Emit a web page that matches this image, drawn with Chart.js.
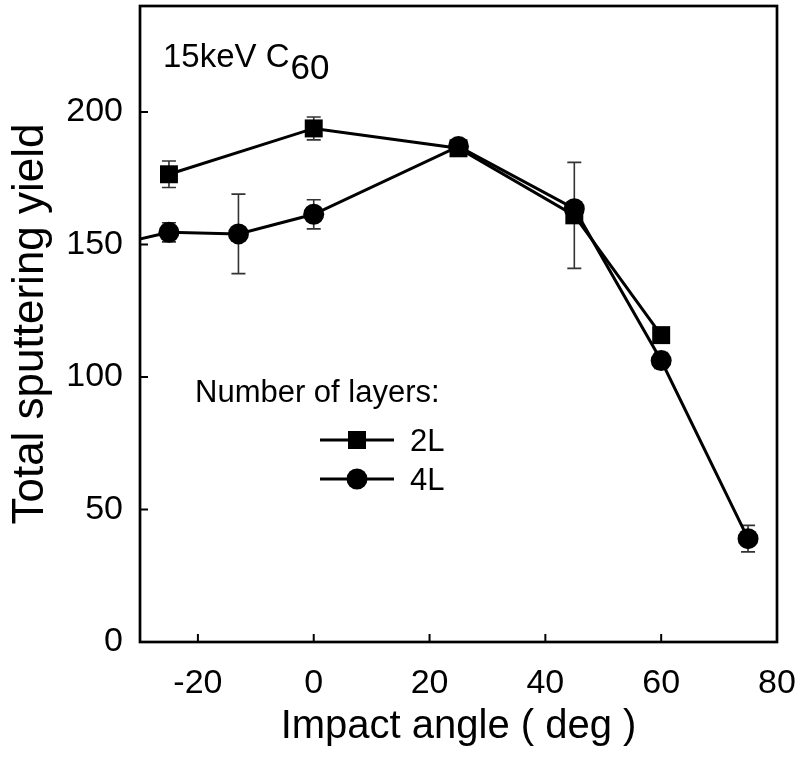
<!DOCTYPE html>
<html lang="en">
<head>
  <meta charset="UTF-8">
  <title>Total sputtering yield</title>
  <style>
    html, body { margin: 0; padding: 0; background: #fff; }
    #wrap { width: 800px; height: 767px; }
  </style>
</head>
<body>
  <div id="wrap"><canvas id="chart" width="800" height="767"></canvas></div>

  <script src="https://cdn.jsdelivr.net/npm/chart.js@4/dist/chart.umd.min.js"></script>
  <script>
    // data
    const angles2L = [-25, 0, 25, 45, 60];
    const yield2L = [176.5, 193.8, 186.3, 161, 115.8];
    const err2L = [5, 4.3, 2, 20, 0];

    const angles4L = [-35, -25, -13, 0, 25, 45, 60, 75];
    const yield4L = [149.5, 154.6, 154, 161.4, 187, 163.5, 106.2, 39];
    const err4L = [0, 3.6, 15, 5.5, 2, 0, 3, 5];

    const xTicks = [-20, 0, 20, 40, 60, 80];
    const yTicks = [0, 50, 100, 150, 200];

    const FONT = "'Liberation Sans', Arial, sans-serif";

    function toPoints(xs, ys) {
      return xs.map((x, i) => ({ x: x, y: ys[i] }));
    }

    // error bars, drawn under the markers
    const errorBars = {
      id: 'errorBars',
      beforeDatasetsDraw(chart) {
        const { ctx, chartArea, scales: { x, y } } = chart;
        const errs = [err2L, err4L];
        ctx.save();
        ctx.beginPath();
        ctx.rect(chartArea.left, chartArea.top, chartArea.width, chartArea.height);
        ctx.clip();
        ctx.strokeStyle = '#333';
        ctx.lineWidth = 1.6;
        chart.data.datasets.forEach((ds, d) => {
          ds.data.forEach((p, i) => {
            const e = errs[d][i];
            if (!e) return;
            const px = x.getPixelForValue(p.x);
            const top = y.getPixelForValue(p.y + e);
            const bot = y.getPixelForValue(p.y - e);
            ctx.beginPath();
            ctx.moveTo(px, top); ctx.lineTo(px, bot);
            ctx.moveTo(px - 7, top); ctx.lineTo(px + 7, top);
            ctx.moveTo(px - 7, bot); ctx.lineTo(px + 7, bot);
            ctx.stroke();
          });
        });
        ctx.restore();
      }
    };

    // box, inward ticks, annotation and legend
    const frame = {
      id: 'frame',
      afterDraw(chart) {
        const { ctx, chartArea: a, scales: { x, y } } = chart;
        ctx.save();
        ctx.strokeStyle = '#000';
        ctx.lineWidth = 2.7;
        ctx.strokeRect(a.left, a.top, a.width, a.height);

        ctx.lineWidth = 2;
        ctx.beginPath();
        xTicks.forEach(v => {
          const px = x.getPixelForValue(v);
          ctx.moveTo(px, a.bottom); ctx.lineTo(px, a.bottom - 8);
        });
        yTicks.forEach(v => {
          const py = y.getPixelForValue(v);
          ctx.moveTo(a.left, py); ctx.lineTo(a.left + 8, py);
        });
        ctx.stroke();

        // 15keV C60
        ctx.fillStyle = '#000';
        ctx.textBaseline = 'alphabetic';
        ctx.textAlign = 'left';
        ctx.font = '33px ' + FONT;
        ctx.fillText('15keV C', 163, 67);
        const w = ctx.measureText('15keV C').width;
        ctx.font = '35px ' + FONT;
        ctx.fillText('60', 164 + w, 79);

        // legend
        ctx.font = '31px ' + FONT;
        ctx.fillText('Number of layers:', 195, 402);
        const items = [
          { label: '2L', style: 'rect', y: 440 },
          { label: '4L', style: 'circle', y: 479 }
        ];
        items.forEach(it => {
          ctx.lineWidth = 3;
          ctx.beginPath();
          ctx.moveTo(320, it.y); ctx.lineTo(394, it.y);
          ctx.stroke();
          ctx.beginPath();
          if (it.style === 'rect') {
            ctx.rect(348, it.y - 9, 18, 18);
          } else {
            ctx.arc(357, it.y, 10.5, 0, Math.PI * 2);
          }
          ctx.fill();
          ctx.textBaseline = 'alphabetic';
          ctx.fillText(it.label, 410, it.y + 11);
        });
        ctx.restore();
      }
    };

    new Chart(document.getElementById('chart'), {
      type: 'scatter',
      plugins: [errorBars, frame],
      data: {
        datasets: [
          {
            label: '2L',
            data: toPoints(angles2L, yield2L),
            showLine: true,
            borderColor: '#000',
            backgroundColor: '#000',
            borderWidth: 3,
            pointStyle: 'rect',
            pointRadius: 12.7,
            pointBorderWidth: 0,
            pointHoverRadius: 12.7
          },
          {
            label: '4L',
            data: toPoints(angles4L, yield4L),
            showLine: true,
            borderColor: '#000',
            backgroundColor: '#000',
            borderWidth: 3,
            pointStyle: 'circle',
            pointRadius: 10.5,
            pointBorderWidth: 0,
            pointHoverRadius: 10.5
          }
        ]
      },
      options: {
        responsive: false,
        devicePixelRatio: 1,
        animation: false,
        layout: { autoPadding: false, padding: { top: 6, right: 23, left: 0, bottom: 0 } },
        plugins: {
          legend: { display: false },
          tooltip: { enabled: false }
        },
        scales: {
          x: {
            type: 'linear',
            min: -30,
            max: 80,
            afterBuildTicks: s => { s.ticks = xTicks.map(v => ({ value: v })); },
            afterFit: s => { s.height = 125; s.paddingLeft = 0; s.paddingRight = 0; },
            grid: { display: false },
            border: { display: false },
            ticks: {
              color: '#000',
              padding: 13,
              font: { family: FONT, size: 34 }
            },
            title: {
              display: true,
              text: 'Impact angle ( deg )',
              color: '#000',
              padding: { top: 0, bottom: 16 },
              font: { family: FONT, size: 40 }
            }
          },
          y: {
            type: 'linear',
            min: 0,
            max: 240,
            afterBuildTicks: s => { s.ticks = yTicks.map(v => ({ value: v })); },
            afterFit: s => { s.width = 140; s.paddingTop = 0; s.paddingBottom = 0; },
            grid: { display: false },
            border: { display: false },
            ticks: {
              color: '#000',
              padding: 9,
              font: { family: FONT, size: 34 }
            },
            title: {
              display: true,
              text: 'Total sputtering yield',
              color: '#000',
              padding: { bottom: 0, top: 4 },
              font: { family: FONT, size: 44 }
            }
          }
        }
      }
    });
  </script>
</body>
</html>
